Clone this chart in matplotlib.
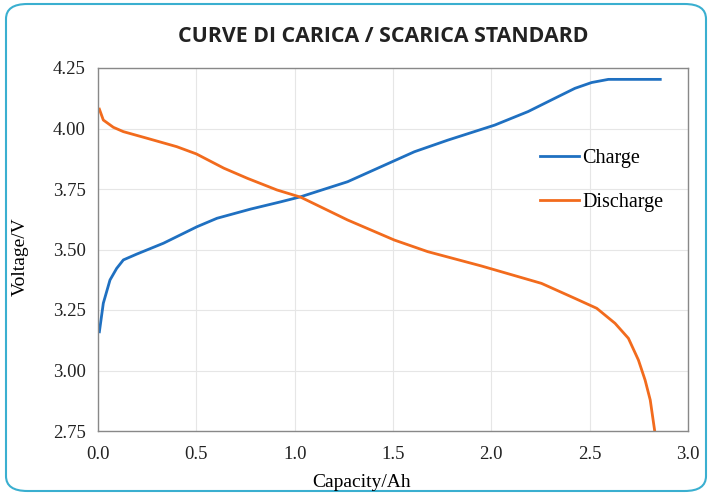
import numpy as np
import matplotlib.pyplot as plt
from matplotlib.patches import FancyBboxPatch

# Data
charge_cap = [0.007, 0.027, 0.061, 0.095, 0.129, 0.197, 0.333, 0.503, 0.605, 0.776, 0.929, 1.031,
              1.269, 1.439, 1.609, 1.779, 2.017, 2.187, 2.323, 2.425, 2.51, 2.595, 2.859]
charge_v = [3.16, 3.278, 3.374, 3.422, 3.457, 3.481, 3.526, 3.594, 3.629, 3.667, 3.697, 3.718,
            3.78, 3.842, 3.904, 3.952, 4.014, 4.07, 4.125, 4.166, 4.19, 4.203, 4.203]

discharge_cap = [0.007, 0.027, 0.078, 0.129, 0.248, 0.40, 0.50, 0.64, 0.76, 0.91, 1.031, 1.269,
                 1.507, 1.677, 1.949, 2.255, 2.425, 2.536, 2.629, 2.697, 2.748, 2.782, 2.808, 2.830]
discharge_v = [4.08, 4.035, 4.005, 3.987, 3.96, 3.925, 3.895, 3.836, 3.794, 3.746, 3.716, 3.622,
               3.539, 3.491, 3.432, 3.36, 3.298, 3.257, 3.195, 3.133, 3.043, 2.96, 2.878, 2.754]

xticks = [0.0, 0.5, 1.0, 1.5, 2.0, 2.5, 3.0]
yticks = [2.75, 3.00, 3.25, 3.50, 3.75, 4.00, 4.25]

serif = ['Liberation Serif', 'DejaVu Serif']

fig = plt.figure(figsize=(7.12, 4.97), dpi=100)

# rounded frame around the whole chart
border = FancyBboxPatch((6 / 712, 6 / 497), 700 / 712, 487 / 497,
                        boxstyle="round,pad=0,rounding_size=0.03",
                        transform=fig.transFigure, facecolor='white',
                        edgecolor='#3aafd0', linewidth=1.5, zorder=-10)
fig.patches.append(border)

ax = fig.add_axes([98 / 712, 1 - 431 / 497, 590 / 712, 363 / 497])
ax.plot(charge_cap, charge_v, color='#1f70c1', lw=2.0, label='Charge')
ax.plot(discharge_cap, discharge_v, color='#f26b1d', lw=2.0, label='Discharge')

ax.set_xlim(0, 3.0)
ax.set_ylim(2.75, 4.25)
ax.set_xticks(xticks)
ax.set_yticks(yticks)
ax.set_xticklabels([f'{t:.1f}' for t in xticks], family=serif, fontsize=13.5)
ax.set_yticklabels([f'{t:.2f}' for t in yticks], family=serif, fontsize=13.5)
ax.tick_params(axis='x', length=0, pad=11, colors='#222222')
ax.tick_params(axis='y', length=0, pad=9, colors='#222222')
ax.grid(True, color='#e6e6e6', lw=0.8)
ax.set_axisbelow(True)
for s in ax.spines.values():
    s.set_color('#888888')
    s.set_linewidth(1.0)

ax.set_xlabel('Capacity/Ah', family=serif, fontsize=14)
ax.set_ylabel('Voltage/V', family=serif, fontsize=14)
ax.xaxis.set_label_coords(0.447, -0.118)
ax.yaxis.set_label_coords(-0.118, 0.479)

fig.text(383 / 712, 1 - 36 / 497, 'CURVE DI CARICA / SCARICA STANDARD',
         ha='center', va='center', family=['Open Sans', 'DejaVu Sans'],
         fontweight='bold', fontsize=15.4, color='#222222')

ax.legend(loc='upper left', bbox_to_anchor=(0.735, 0.8), frameon=False,
          prop={'family': serif, 'size': 14.5}, handlelength=1.95,
          handletextpad=0.15, labelspacing=1.25, borderaxespad=0)

fig.savefig('out.png', dpi=100)
